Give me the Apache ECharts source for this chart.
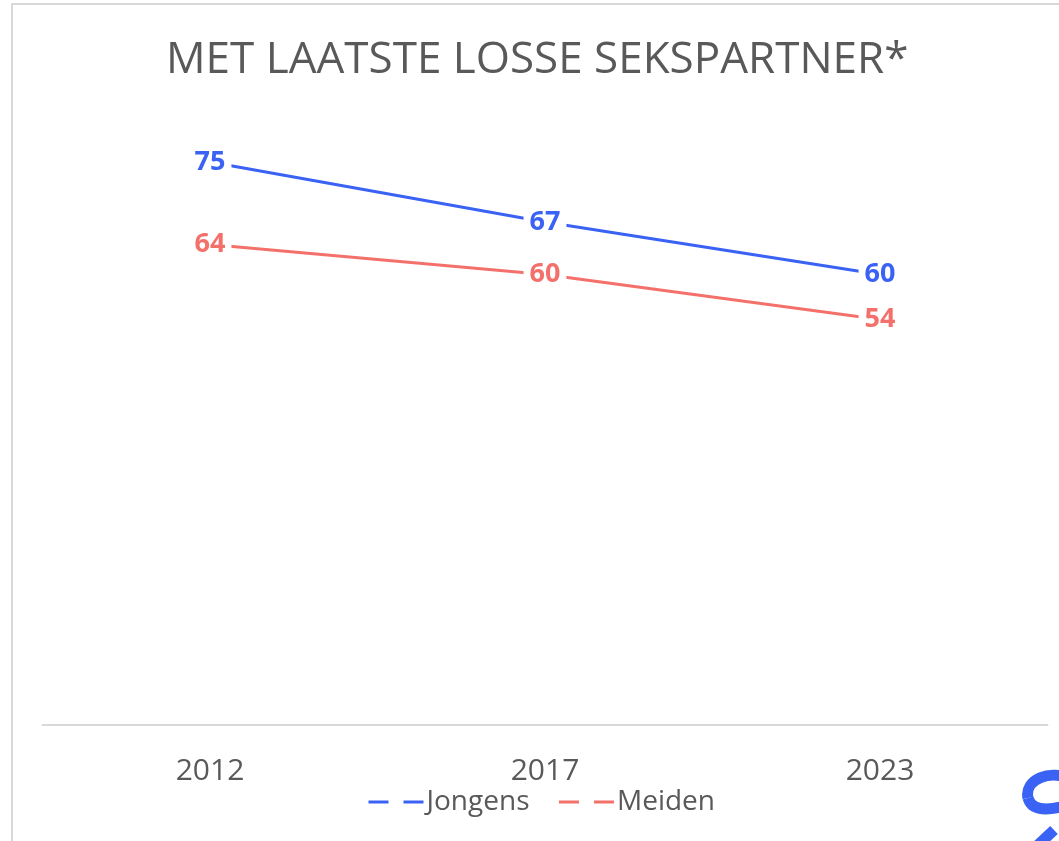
<!DOCTYPE html>
<html>
<head>
    <meta charset="utf-8" />
    <title>Met laatste losse sekspartner</title>
    <style>
        html, body { margin: 0; padding: 0; background: #fff; }
        #chart { width: 1059px; height: 841px; }
    </style>
</head>
<body>
    <div id="chart"></div>
    <script src="https://cdn.jsdelivr.net/npm/echarts@6/dist/echarts.min.js"></script>
    <script>
        var years = ['2012', '2017', '2023'];
        var jongens = [75, 67, 60];
        var meiden = [64, 60, 54];

        var blue = '#3a62f4';
        var red = '#f4716b';
        var font = '"Open Sans", sans-serif';

        function lineSeries(name, data, color) {
            return {
                name: name,
                type: 'line',
                data: data,
                symbol: 'circle',
                symbolSize: 1,
                itemStyle: { color: color },
                lineStyle: { color: color, width: 3 },
                label: {
                    show: true,
                    position: 'inside',
                    color: color,
                    fontFamily: font,
                    fontWeight: 'bold',
                    fontSize: 27,
                    backgroundColor: '#fff',
                    padding: [2, 6]
                },
                emphasis: { disabled: true },
                animation: false
            };
        }

        var chart = echarts.init(document.getElementById('chart'));
        chart.setOption({
            title: {
                text: 'MET LAATSTE LOSSE SEKSPARTNER*',
                left: 161,
                top: 33,
                textStyle: {
                    fontFamily: font,
                    fontWeight: 'normal',
                    fontSize: 44,
                    color: '#595959'
                }
            },
            legend: {
                bottom: 20,
                left: 362,
                itemWidth: 55,
                itemHeight: 16,
                itemGap: 28,
                textStyle: { fontFamily: font, fontSize: 28, color: '#595959', padding: [0, 0, 0, -2] },
                lineStyle: { type: [20, 15], width: 3 },
                itemStyle: { opacity: 0 },
                data: ['Jongens', 'Meiden']
            },
            grid: { left: 42.5, right: 11.5, top: 162, bottom: 116.5 },
            xAxis: {
                type: 'category',
                data: years,
                boundaryGap: true,
                axisLine: { lineStyle: { color: '#d9d9d9', width: 2 } },
                axisTick: { show: false },
                axisLabel: { margin: 32, fontFamily: font, fontSize: 30, color: '#595959' }
            },
            yAxis: {
                type: 'value',
                min: 0,
                max: 75,
                show: false,
                splitLine: { show: false }
            },
            graphic: [
                {
                    type: 'rect',
                    shape: { x: 12, y: 4, width: 1200, height: 1000 },
                    style: { fill: 'none', stroke: '#d9d9d9', lineWidth: 2 },
                    silent: true
                },
                {
                    type: 'bezierCurve',
                    shape: { x1: 1072, y1: 780, cpx1: 1050, cpy1: 768, cpx2: 1024, cpy2: 780, x2: 1028, y2: 798 },
                    style: { fill: 'none', stroke: blue, lineWidth: 11 },
                    silent: true
                },
                {
                    type: 'bezierCurve',
                    shape: { x1: 1028, y1: 798, cpx1: 1032, cpy1: 812, cpx2: 1050, cpy2: 810, x2: 1065, y2: 806 },
                    style: { fill: 'none', stroke: blue, lineWidth: 11 },
                    silent: true
                },
                {
                    type: 'line',
                    shape: { x1: 1038, y1: 845, x2: 1054, y2: 830 },
                    style: { stroke: blue, lineWidth: 11 },
                    silent: true
                }
            ],
            series: [
                lineSeries('Jongens', jongens, blue),
                lineSeries('Meiden', meiden, red)
            ]
        });
    </script>
</body>
</html>
